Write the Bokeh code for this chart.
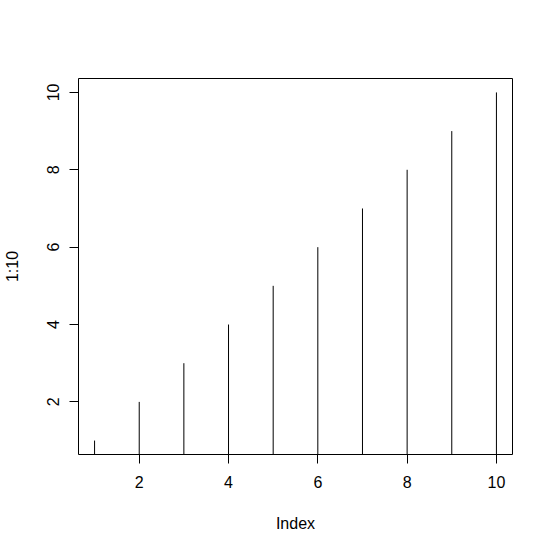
from bokeh.plotting import figure
from bokeh.models import Range1d, FixedTicker
from bokeh.embed import file_html
from bokeh.resources import INLINE

index = [1, 2, 3, 4, 5, 6, 7, 8, 9, 10]
values = [1, 2, 3, 4, 5, 6, 7, 8, 9, 10]
x_ticks = [2, 4, 6, 8, 10]
y_ticks = [2, 4, 6, 8, 10]

p = figure(width=537, height=536, output_backend="svg", toolbar_location=None,
           frame_width=434, frame_height=376,
           min_border_left=70, min_border_top=78, min_border_right=33, min_border_bottom=82,
           x_range=Range1d(0.64, 10.36), y_range=Range1d(0.64, 10.36))
p.background_fill_color = "white"
p.border_fill_color = "white"
p.grid.visible = False
p.outline_line_color = "black"
p.outline_line_width = 1
p.outline_line_alpha = 1

p.segment(x0=index, y0=[0] * len(index), x1=index, y1=values,
          line_color="black", line_width=1)

for ax in (p.xaxis[0], p.yaxis[0]):
    ax.axis_line_color = None
    ax.minor_tick_line_color = None
    ax.major_tick_in = 0
    ax.major_tick_out = 9
    ax.major_tick_line_color = "black"
    ax.major_label_text_font = "Liberation Sans"
    ax.major_label_text_font_size = "16px"
    ax.major_label_text_color = "black"
    ax.axis_label_text_font = "Liberation Sans"
    ax.axis_label_text_font_size = "16px"
    ax.axis_label_text_font_style = "normal"
    ax.axis_label_text_color = "black"

p.xaxis[0].ticker = FixedTicker(ticks=x_ticks)
p.yaxis[0].ticker = FixedTicker(ticks=y_ticks)
p.xaxis[0].axis_label = "Index"
p.yaxis[0].axis_label = "1:10"
p.xaxis[0].major_label_standoff = 12
p.yaxis[0].major_label_standoff = 10
p.yaxis[0].major_label_orientation = "vertical"
p.xaxis[0].axis_label_standoff = 24
p.yaxis[0].axis_label_standoff = 24

open("out.html", "w").write(file_html(p, INLINE))
